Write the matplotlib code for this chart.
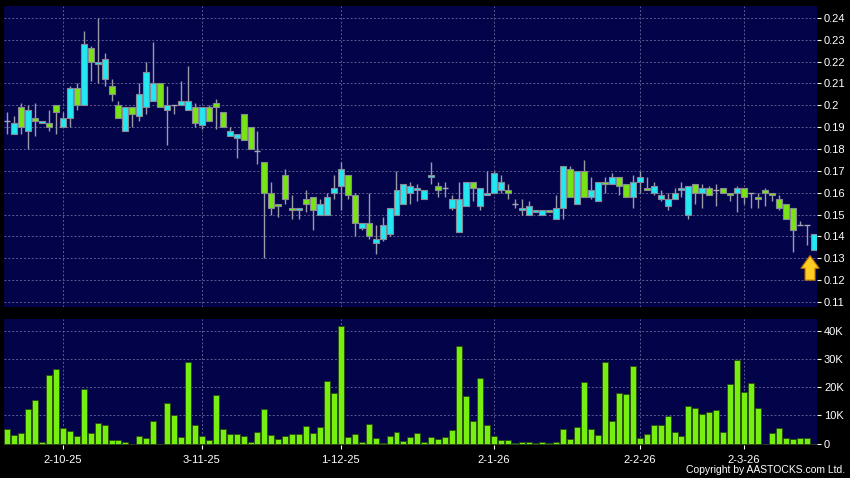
import matplotlib
matplotlib.use('Agg')
import matplotlib.pyplot as plt
import numpy as np

# daily OHLC (HKD) and volume (thousands of shares)
opens = [0.193, 0.187, 0.199, 0.188, 0.194, 0.192, 0.192, 0.200, 0.190, 0.194,
         0.208, 0.200, 0.226, 0.219, 0.212, 0.209, 0.200, 0.188, 0.199, 0.195,
         0.199, 0.202, 0.210, 0.198, 0.200, 0.200, 0.198, 0.199, 0.191, 0.199,
         0.201, 0.197, 0.186, 0.185, 0.196, 0.190, 0.179, 0.174, 0.160, 0.155,
         0.168, 0.153, 0.152, 0.157, 0.158, 0.150, 0.150, 0.160, 0.163, 0.168,
         0.159, 0.144, 0.146, 0.137, 0.139, 0.141, 0.150, 0.155, 0.160, 0.161,
         0.157, 0.167, 0.163, 0.162, 0.153, 0.142, 0.154, 0.165, 0.154, 0.159,
         0.160, 0.161, 0.161, 0.155, 0.152, 0.150, 0.151, 0.150, 0.152, 0.148,
         0.153, 0.171, 0.155, 0.170, 0.158, 0.156, 0.165, 0.164, 0.167, 0.164,
         0.158, 0.165, 0.162, 0.160, 0.157, 0.154, 0.157, 0.161, 0.150, 0.164,
         0.160, 0.162, 0.161, 0.162, 0.160, 0.160, 0.162, 0.160, 0.158, 0.161,
         0.160, 0.157, 0.155, 0.153, 0.145, 0.145, 0.134]
highs = [0.197, 0.195, 0.201, 0.200, 0.201, 0.193, 0.198, 0.200, 0.197, 0.209,
         0.210, 0.234, 0.227, 0.240, 0.224, 0.212, 0.202, 0.199, 0.199, 0.210,
         0.220, 0.229, 0.210, 0.209, 0.200, 0.211, 0.218, 0.201, 0.199, 0.200,
         0.203, 0.197, 0.190, 0.187, 0.196, 0.190, 0.188, 0.174, 0.165, 0.155,
         0.171, 0.159, 0.153, 0.161, 0.158, 0.157, 0.160, 0.168, 0.174, 0.168,
         0.160, 0.146, 0.160, 0.145, 0.149, 0.153, 0.170, 0.164, 0.165, 0.164,
         0.161, 0.174, 0.165, 0.165, 0.159, 0.165, 0.165, 0.165, 0.162, 0.170,
         0.170, 0.168, 0.164, 0.157, 0.157, 0.156, 0.152, 0.152, 0.152, 0.159,
         0.172, 0.172, 0.170, 0.175, 0.167, 0.165, 0.167, 0.169, 0.167, 0.164,
         0.168, 0.170, 0.167, 0.165, 0.161, 0.160, 0.162, 0.165, 0.163, 0.164,
         0.164, 0.163, 0.164, 0.162, 0.160, 0.163, 0.162, 0.160, 0.160, 0.162,
         0.160, 0.159, 0.155, 0.153, 0.147, 0.145, 0.141]
lows = [0.187, 0.187, 0.187, 0.180, 0.186, 0.192, 0.188, 0.187, 0.190, 0.190,
        0.198, 0.200, 0.211, 0.210, 0.209, 0.202, 0.194, 0.188, 0.190, 0.193,
        0.196, 0.202, 0.199, 0.182, 0.196, 0.200, 0.198, 0.190, 0.189, 0.193,
        0.189, 0.190, 0.186, 0.176, 0.184, 0.180, 0.173, 0.130, 0.150, 0.149,
        0.155, 0.148, 0.148, 0.151, 0.143, 0.150, 0.150, 0.157, 0.152, 0.157,
        0.140, 0.143, 0.139, 0.132, 0.138, 0.140, 0.150, 0.155, 0.155, 0.156,
        0.157, 0.164, 0.158, 0.158, 0.152, 0.142, 0.154, 0.156, 0.152, 0.159,
        0.160, 0.160, 0.157, 0.153, 0.150, 0.150, 0.151, 0.150, 0.151, 0.148,
        0.148, 0.158, 0.155, 0.158, 0.157, 0.156, 0.160, 0.164, 0.159, 0.158,
        0.153, 0.160, 0.161, 0.159, 0.156, 0.152, 0.157, 0.158, 0.148, 0.155,
        0.153, 0.159, 0.154, 0.160, 0.156, 0.151, 0.155, 0.153, 0.153, 0.154,
        0.156, 0.152, 0.148, 0.133, 0.145, 0.136, 0.134]
closes = [0.193, 0.192, 0.190, 0.198, 0.193, 0.193, 0.190, 0.197, 0.194, 0.208,
          0.200, 0.228, 0.220, 0.220, 0.221, 0.205, 0.194, 0.199, 0.196, 0.205,
          0.215, 0.210, 0.199, 0.200, 0.200, 0.202, 0.202, 0.192, 0.199, 0.193,
          0.199, 0.190, 0.188, 0.187, 0.184, 0.180, 0.179, 0.160, 0.153, 0.154,
          0.157, 0.152, 0.153, 0.155, 0.152, 0.155, 0.158, 0.162, 0.171, 0.159,
          0.146, 0.146, 0.140, 0.139, 0.145, 0.153, 0.161, 0.164, 0.163, 0.162,
          0.161, 0.168, 0.161, 0.162, 0.157, 0.157, 0.165, 0.162, 0.162, 0.160,
          0.169, 0.165, 0.160, 0.155, 0.153, 0.154, 0.152, 0.152, 0.151, 0.153,
          0.172, 0.158, 0.170, 0.158, 0.161, 0.165, 0.164, 0.167, 0.163, 0.158,
          0.165, 0.167, 0.161, 0.163, 0.159, 0.157, 0.160, 0.162, 0.163, 0.160,
          0.162, 0.159, 0.161, 0.160, 0.159, 0.162, 0.158, 0.160, 0.157, 0.160,
          0.159, 0.153, 0.148, 0.143, 0.145, 0.145, 0.141]
volumes = [5.1, 3.2, 3.6, 12.4, 15.3, 0.6, 24.4, 26.4, 5.5, 4.6,
           2.7, 19.5, 3.8, 7.2, 6.7, 1.1, 1.2, 0.4, 0.0, 2.8,
           1.9, 7.9, 0.0, 14.5, 10.0, 2.4, 29.0, 6.6, 2.7, 1.3,
           17.2, 5.2, 3.4, 3.4, 2.7, 0.6, 4.0, 12.2, 3.2, 1.8,
           2.6, 3.3, 3.5, 6.1, 3.8, 5.9, 22.1, 18.1, 41.8, 2.2,
           3.5, 0.4, 6.9, 2.1, 0.1, 2.8, 4.0, 0.8, 2.4, 3.8,
           0.5, 2.4, 1.8, 2.4, 4.8, 34.6, 16.9, 8.1, 23.2, 6.5,
           2.6, 1.2, 1.2, 0.1, 0.5, 0.5, 0.1, 0.6, 0.1, 0.4,
           5.2, 1.5, 6.0, 21.8, 5.3, 3.2, 28.8, 7.9, 18.1, 17.7,
           27.6, 1.9, 3.4, 6.6, 6.6, 9.8, 4.1, 2.7, 13.3, 12.6,
           10.5, 11.2, 11.8, 4.0, 21.3, 29.6, 18.2, 21.5, 12.8, 0.0,
           3.8, 5.5, 2.0, 1.8, 1.9, 1.9, 0.0]

date_pos = [8, 28, 48, 70, 91, 106]
date_labels = ['2-10-25', '3-11-25', '1-12-25', '2-1-26', '2-2-26', '2-3-26']
price_ticks = [0.11, 0.12, 0.13, 0.14, 0.15, 0.16, 0.17, 0.18, 0.19, 0.20,
               0.21, 0.22, 0.23, 0.24]
vol_ticks = [0, 10, 20, 30, 40]

BG = '#03034a'
GRID = '#5c5c92'
UP = '#22e8f2'
DOWN = '#78e414'
EDGE = '#8a8a96'
plt.rcParams['font.family'] = ['Liberation Sans', 'DejaVu Sans']

fig = plt.figure(figsize=(8.5, 4.78), dpi=100, facecolor='black')
ax = fig.add_axes([4 / 850, 1 - 307 / 478, 813 / 850, 301 / 478], facecolor=BG)
axv = fig.add_axes([4 / 850, 1 - 445 / 478, 813 / 850, 126 / 478], facecolor=BG)

x = np.arange(len(closes))
o = np.array(opens)
c = np.array(closes)

# candles
ax.vlines(x, lows, highs, color='#9a9aa8', linewidth=1, zorder=2)
up = c > o
dn = c < o
eq = c == o
ax.bar(x[up], (c - o)[up], 0.86, bottom=o[up], color=UP, edgecolor=EDGE, linewidth=0.8, zorder=3)
ax.bar(x[dn], (o - c)[dn], 0.86, bottom=c[dn], color=DOWN, edgecolor=EDGE, linewidth=0.8, zorder=3)
ax.hlines(c[eq], x[eq] - 0.43, x[eq] + 0.43, color='#a8a8b4', linewidth=1, zorder=3)

ax.set_xlim(-0.47, 116.5)
ax.set_ylim(0.1077, 0.2454)
for p in price_ticks:
    ax.axhline(p, color=GRID, linewidth=0.7, linestyle=(0, (2, 2)), zorder=1)
for d in date_pos:
    ax.axvline(d, color=GRID, linewidth=0.7, linestyle=(0, (2, 2)), zorder=1)
ax.set_xticks([])
ax.yaxis.tick_right()
ax.set_yticks(price_ticks)
ax.set_yticklabels([f'{p:g}' for p in price_ticks])
ax.tick_params(axis='y', colors='white', labelsize=8, length=3, pad=2, width=0.8)

# arrow under the last candle
ax.annotate('', xy=(x[-1] - 0.5, lows[-1] - 0.0028), xytext=(x[-1] - 0.5, lows[-1] - 0.0140),
            arrowprops=dict(arrowstyle='simple,head_length=0.7,head_width=1.0,tail_width=0.55',
                            fc='#ffcc22', ec='#c07800', lw=0.8, mutation_scale=13,
                            shrinkA=0, shrinkB=0), zorder=5)

# volume
axv.bar(x, volumes, 0.86, color='#76ee10', edgecolor='#2a4a10', linewidth=0.6, zorder=3)
axv.set_xlim(-0.47, 116.5)
axv.set_ylim(-0.5, 44.2)
for v in vol_ticks[1:]:
    axv.axhline(v, color=GRID, linewidth=0.7, linestyle=(0, (2, 2)), zorder=1)
for d in date_pos:
    axv.axvline(d, color=GRID, linewidth=0.7, linestyle=(0, (2, 2)), zorder=1)
axv.yaxis.tick_right()
axv.set_yticks(vol_ticks)
axv.set_yticklabels([f'{v}K' if v else '0' for v in vol_ticks])
axv.set_xticks(date_pos)
axv.set_xticklabels(date_labels)
axv.tick_params(axis='y', colors='white', labelsize=8, length=3, pad=2, width=0.8)
axv.tick_params(axis='x', colors='white', labelsize=8, length=3, pad=4, width=0.8)

for a in (ax, axv):
    for s in a.spines.values():
        s.set_visible(False)

fig.text(0.994, 0.006, 'Copyright by AASTOCKS.com Ltd.', ha='right', va='bottom',
         color='white', fontsize=7.5)

fig.savefig('out.png', dpi=100, facecolor='black')
